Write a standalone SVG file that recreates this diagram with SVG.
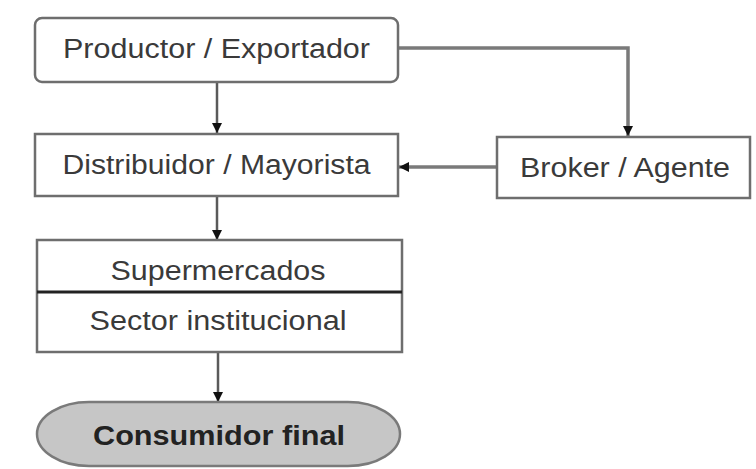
<svg xmlns="http://www.w3.org/2000/svg" width="756" height="469" viewBox="0 0 756 469">
  <defs>
    <marker id="ah" viewBox="0 0 10 10" refX="10" refY="5" markerWidth="10" markerHeight="10" markerUnits="userSpaceOnUse" orient="auto">
      <path d="M0,0 L10,5 L0,10 Z" fill="#111"/>
    </marker>
    <style>
      .box { fill: #ffffff; stroke: #6e6e6e; stroke-width: 2.5; }
      .lbl { font-family: "Liberation Sans", Arial, sans-serif; font-size: 27px; fill: #3a3a3a; text-anchor: middle; }
      .bold { font-weight: bold; fill: #222; }
      .conn { fill: none; stroke: #5a5a5a; stroke-width: 2.5; }
      .conn2 { fill: none; stroke: #7a7a7a; stroke-width: 3.5; }
    </style>
  </defs>
  <rect width="756" height="469" fill="#ffffff"/>

  <g id="connectors">
    <line class="conn" x1="217" y1="82" x2="217" y2="133" marker-end="url(#ah)"/>
    <line class="conn" x1="217" y1="196" x2="217" y2="240" marker-end="url(#ah)"/>
    <line class="conn" x1="218" y1="352" x2="218" y2="402" marker-end="url(#ah)"/>
    <polyline class="conn2" points="398,48 628,48 628,136" marker-end="url(#ah)"/>
    <line class="conn2" x1="497" y1="167" x2="399" y2="167" marker-end="url(#ah)"/>
  </g>

  <g id="productor">
    <rect class="box" x="35" y="18" width="363" height="64" rx="7"/>
    <text class="lbl" x="216.5" y="58" textLength="307" lengthAdjust="spacingAndGlyphs">Productor / Exportador</text>
  </g>

  <g id="distribuidor">
    <rect class="box" x="35" y="134" width="363" height="62"/>
    <text class="lbl" x="216.5" y="174" textLength="308" lengthAdjust="spacingAndGlyphs">Distribuidor / Mayorista</text>
  </g>

  <g id="broker">
    <rect class="box" x="497" y="137" width="253" height="61"/>
    <text class="lbl" x="625" y="177" textLength="210" lengthAdjust="spacingAndGlyphs">Broker / Agente</text>
  </g>

  <g id="minoristas">
    <rect class="box" x="37" y="240" width="365" height="112"/>
    <line x1="37" y1="292" x2="402" y2="292" stroke="#222" stroke-width="3"/>
    <text class="lbl" x="218" y="280" textLength="215" lengthAdjust="spacingAndGlyphs">Supermercados</text>
    <text class="lbl" x="218" y="330" textLength="257" lengthAdjust="spacingAndGlyphs">Sector institucional</text>
  </g>

  <g id="consumidor">
    <rect x="37" y="402" width="363" height="64" rx="52" ry="32" fill="#c6c6c6" stroke="#7a7a7a" stroke-width="2.5"/>
    <text class="lbl bold" x="219" y="445" textLength="252" lengthAdjust="spacingAndGlyphs">Consumidor final</text>
  </g>
</svg>
